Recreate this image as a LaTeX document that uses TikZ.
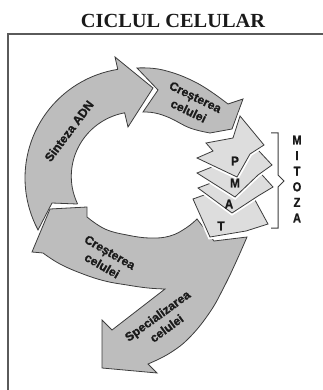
\documentclass[tikz,border=0pt]{standalone}
\usepackage{fontspec}
\setmainfont{Liberation Serif}
\newfontfamily\arrfont[FakeBold=1.2]{Liberation Sans}
\newfontfamily\letfont[FakeBold=1.2]{Liberation Sans}
\usetikzlibrary{calc}
\definecolor{ringgray}{HTML}{BDBDBD}
\definecolor{mitogray}{HTML}{DDDDDD}
\definecolor{edgegray}{HTML}{3C3C3C}
\definecolor{framegray}{HTML}{5A5A5A}
\definecolor{txtcol}{HTML}{1A1A1A}
\begin{document}
\begin{tikzpicture}[x=1pt,y=-1pt,
  ringarrow/.style={fill=ringgray, draw=edgegray, line width=0.8pt, line join=miter},
  mitopiece/.style={fill=mitogray, draw=edgegray, line width=0.8pt, line join=miter,
    preaction={draw=white, line width=4.5pt}},
  ringlabel/.style={font=\arrfont\bfseries\fontsize{12.2}{15.5}\selectfont, align=center,
    inner sep=0pt, text=txtcol},
  stagelabel/.style={font=\letfont\bfseries\fontsize{13}{15}\selectfont, inner sep=0pt,
    text=txtcol, xscale=0.9},
  framelinestyle/.style={draw=framegray, line width=1.2pt}]
\useasboundingbox (0,0) rectangle (323,390);

% frame
\coordinate (fTL) at (8,34);
\coordinate (fTR) at (323,34);
\coordinate (fBL) at (8,390);
\draw[framelinestyle] (fTR) -- (fTL) -- (fBL);

% title
\node[font=\bfseries\fontsize{20}{24}\selectfont, text=txtcol, xscale=1.02] (title) at (173,21) {CICLUL CELULAR};

% Sinteza ADN arrow
\draw[ringarrow] (38,230) -- (52,203) -- (77,204)
  -- plot[domain=0:1, samples=40] ({135+(63+3*\x)*cos(156+105*\x)},{178+(63+3*\x)*sin(156+105*\x)})
  -- (128,127) -- (153,88) -- (115,57) -- (117.8,69.4)
  -- plot[domain=0:1, samples=40] ({135+110*cos(261-109*\x)},{178+110*sin(261-109*\x)})
  -- cycle;

% upper growth arrow
\draw[ringarrow] (137,68)
  -- plot[smooth, tension=0.7] coordinates {(137,68) (163,70) (197,83) (228,104)}
  -- (243,99) -- (232,129) -- (210,133)
  -- plot[smooth, tension=0.7] coordinates {(210,133) (190,128) (170,118) (155,113) (143,112)}
  -- (158,90) -- cycle;

% lower growth + specialisation arrow
\draw[ringarrow] (197,219) -- (214,241) -- (247,237)
  -- plot[smooth, tension=0.7] coordinates {(247,237) (236,262) (224,287) (210,312) (190,337) (170,353) (148,364)}
  -- (157,373) -- (102,368) -- (102,320) -- (112,330) -- (165,289)
  -- plot[smooth, tension=0.7] coordinates {(165,289) (148,288) (127,285) (105,281) (83,274) (60,264) (43,253)}
  -- (32,252) -- (50,209) -- (87,207) -- (87,217)
  -- plot[smooth, tension=0.7] coordinates {(87,217) (105,229) (127,235) (150,238) (170,236) (186,228) (197,219)}
  -- cycle;

% mitosis pieces (bottom to top)
\draw[mitopiece] (243,178) -- (268,224) -- (246,231) -- (210,237) -- (193,199) -- (207,194) -- (204,188) -- cycle;
\draw[mitopiece] (245,156) -- (273,187) -- (258,196) -- (232,213) -- (198,188) -- (211,183) -- (205,177) -- cycle;
\draw[mitopiece] (245,136) -- (272,165) -- (258,175) -- (235,197) -- (197,173) -- (212,167) -- (205,160) -- cycle;
\draw[mitopiece] (240,116) -- (264,145) -- (250,154) -- (237,177) -- (197,158) -- (213,151) -- (206,143) -- (233,138) -- cycle;

% stage letters
\node[stagelabel] (lP) at (235,161) {P};
\node[stagelabel] (lM) at (235,183) {M};
\node[stagelabel] (lA) at (229,204) {A};
\node[stagelabel] (lT) at (221,226) {T};

% brace
\coordinate (bTop) at (271,133);
\coordinate (bBot) at (271,228);
\coordinate (bTip) at (284,181);
\draw[draw=edgegray, line width=1pt, line join=miter] (bTop) -- (278,133) -- (278,175) -- (bTip) -- (278,187) -- (278,228) -- (bBot);

\node[font=\letfont\bfseries\fontsize{13}{15.6}\selectfont, align=center, inner sep=0pt, text=txtcol, xscale=0.85] (mitoza) at (297,179) {M\\I\\T\\O\\Z\\A};

% ring labels
\node[ringlabel, rotate=53] (sinteza) at (69,131) {Sinteza ADN};
\node[ringlabel, rotate=-26] (growthA) at (192,104) {Creșterea\\celulei};
\node[ringlabel, rotate=-30] (growthB) at (106,259) {Creșterea\\celulei};
\node[ringlabel, rotate=36] (special) at (162,322) {Specializarea\\celulei};
\end{tikzpicture}
\end{document}
